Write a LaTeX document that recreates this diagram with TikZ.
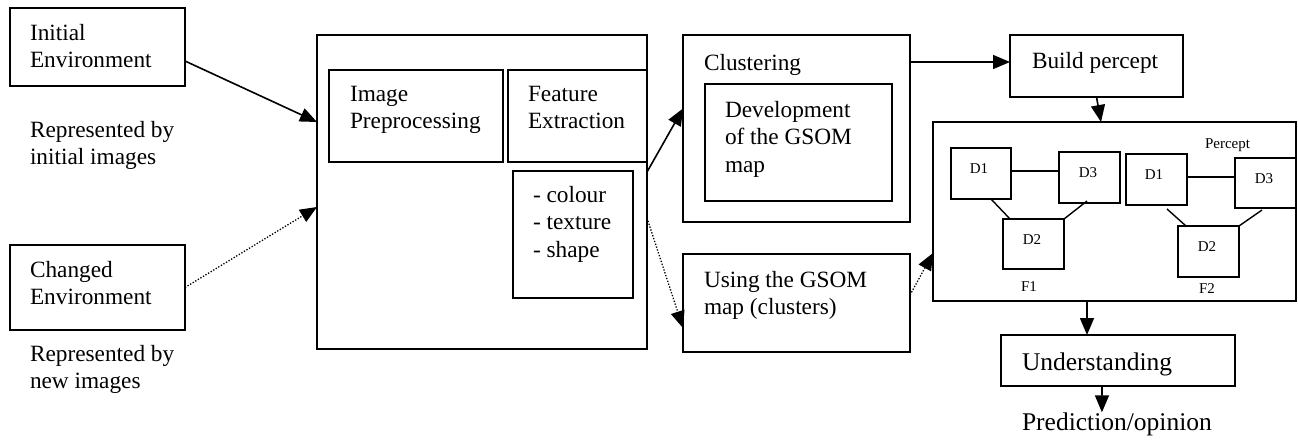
\documentclass[tikz,border=0pt]{standalone}
\usepackage{fontspec}
\setmainfont{Liberation Serif}
\usetikzlibrary{arrows.meta,fit,calc}
\begin{document}
\begin{tikzpicture}[x=1pt,y=-1pt,
  box/.style={draw,line width=1.6pt,inner sep=0pt,outer sep=0pt},
  sbox/.style={draw,line width=1.4pt,inner sep=0pt,outer sep=0pt},
  txt/.style={inner sep=0pt,outer sep=0pt,align=left,anchor=north west,font=\fontsize{23.3}{27.5}\selectfont},
  btxt/.style={inner sep=0pt,outer sep=0pt,anchor=base west,font=\fontsize{23.3}{27.5}\selectfont},
  ltxt/.style={inner sep=0pt,outer sep=0pt,anchor=base west,font=\fontsize{25.5}{30}\selectfont},
  stxt/.style={inner sep=0pt,outer sep=0pt,anchor=base,font=\fontsize{15}{18}\selectfont},
  arr/.style={line width=1.6pt,-{Triangle[length=17pt,width=14pt]}},
  darr/.style={line width=1.3pt,dash pattern=on 1.3pt off 1.7pt,-{Triangle[length=17pt,width=14pt]}},
  link/.style={line width=1.4pt}]
\useasboundingbox (0,0) rectangle (1298,439);
% boxes
\node[box,fit={(10,8)(185,86)}] (ie) {};
\node[box,fit={(10,245)(185,330)}] (ce) {};
\node[box,fit={(317,35)(647,349)}] (main) {};
\node[box,fit={(329,70)(503,162)}] (ip) {};
\node[box,fit={(508,70)(647,162)}] (fe) {};
\node[box,fit={(513,171)(633,298)}] (fl) {};
\node[box,fit={(683,35)(910,222)}] (cl) {};
\node[box,fit={(705,84)(892,201)}] (dev) {};
\node[box,fit={(683,254)(910,352)}] (use) {};
\node[box,fit={(1010,35)(1183,97)}] (bp) {};
\node[box,fit={(933,122)(1296,301)}] (per) {};
\node[sbox,fit={(951,148)(1011,199)}] (a1) {};
\node[sbox,fit={(1059,152)(1120,203)}] (a3) {};
\node[sbox,fit={(1003,219)(1064,269)}] (a2) {};
\node[sbox,fit={(1126,154)(1187,205)}] (b1) {};
\node[sbox,fit={(1235,158)(1296,208)}] (b3) {};
\node[sbox,fit={(1178,226)(1239,277)}] (b2) {};
\node[box,fit={(1001,335)(1235,386)}] (und) {};
% texts
\node[txt] (tie) at (30,24) {Initial\\Environment};
\node[txt] (trep1) at (30,121) {Represented by\\initial images};
\node[txt] (tce) at (30,261) {Changed\\Environment};
\node[txt] (trep2) at (30,345) {Represented by\\new images};
\node[txt] (tip) at (350,86) {Image\\Preprocessing};
\node[txt] (tfe) at (528,86) {Feature\\Extraction};
\node[txt] (tfl) at (533,186) {- colour\\- texture\\- shape};
\node[btxt] (tcl) at (704,70) {Clustering};
\node[txt] (tdev) at (725,101) {Development\\of the GSOM\\map};
\node[txt] (tuse) at (704,271) {Using the GSOM\\map (clusters)};
\node[btxt] (tbp) at (1032,68) {Build percept};
\node[ltxt] (tund) at (1022,370) {Understanding};
\node[ltxt] (pred) at (1022,430) {Prediction/opinion};
\node[stxt,anchor=base west] (tper) at (1205,148) {Percept};
\node[stxt] (ta1) at (979,173) {D1};
\node[stxt] (ta3) at (1088,177) {D3};
\node[stxt] (ta2) at (1032,244) {D2};
\node[stxt] (tf1) at (1029,291) {F1};
\node[stxt] (tb1) at (1154,179) {D1};
\node[stxt] (tb3) at (1264,183) {D3};
\node[stxt] (tb2) at (1207,251) {D2};
\node[stxt] (tf2) at (1207,293) {F2};
% connectors
\draw[arr] ([yshift=-14pt]ie.east) -- ([yshift=70pt]main.west);
\draw[darr] (ce.east) -- ([yshift=-15pt]main.west);
\draw[arr] ([yshift=20pt]main.east) -- ([yshift=20pt]cl.west);
\draw[darr] ([yshift=-26pt]main.east) -- ([yshift=-25pt]use.west);
\draw[darr] ([yshift=8pt]use.east) -- ([yshift=-41.5pt]per.west);
\coordinate (bpin) at ([yshift=4pt]bp.west);
\draw[arr] (bpin -| cl.east) -- (bpin);
\draw[arr] (bp.south) -- ([xshift=-13.5pt]per.north);
\coordinate (undin) at ([xshift=-31pt]und.north);
\draw[arr] (undin |- per.south) -- (undin);
\draw[arr] ([xshift=-16pt]und.south) -- ([xshift=-15pt]pred.north);
% percept links
\draw[link] ([yshift=2.5pt]a1.east) -- ([yshift=6.5pt]a3.west);
\draw[link] ([xshift=10pt]a1.south) -- ([xshift=-23.5pt]a2.north);
\draw[link] ([xshift=-2.5pt,yshift=2pt]a3.south) -- (a2.north east);
\draw[link] ([yshift=2.5pt]b1.east) -- ([yshift=6pt]b3.west);
\draw[link] ([xshift=10.5pt,yshift=-4pt]b1.south) -- ([xshift=-22.5pt]b2.north);
\draw[link] ([xshift=-3.5pt,yshift=-2pt]b3.south) -- (b2.north east);
\end{tikzpicture}
\end{document}
